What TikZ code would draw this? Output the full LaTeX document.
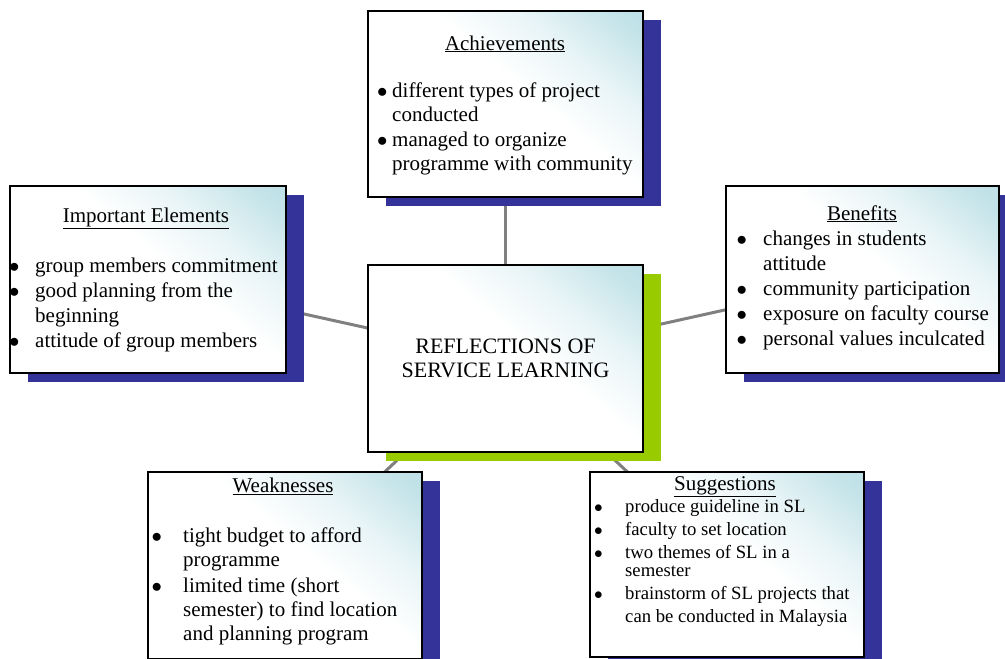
\documentclass[tikz,border=0pt]{standalone}
\usepackage{fontspec}
\setmainfont{Liberation Serif}
\usetikzlibrary{backgrounds}
\definecolor{tealtint}{RGB}{178,219,226}
\definecolor{shadowblue}{RGB}{51,51,153}
\definecolor{shadowgreen}{RGB}{153,204,0}
\definecolor{linkgray}{RGB}{128,128,128}
\pgfdeclareverticalshading{cornertint}{100bp}{color(0bp)=(white); color(55bp)=(white);
  color(68bp)=(tealtint!30!white); color(80bp)=(tealtint!75!white); color(92bp)=(tealtint); color(100bp)=(tealtint)}
\tikzset{
  infobox/.style={draw=black, line width=1.6pt, shading=cornertint, shading angle=-40,
    inner sep=0pt, outer sep=0pt},
  linkline/.style={draw=linkgray, line width=3pt},
  boxtitle/.style={anchor=base, inner sep=0pt, font=\fontsize{21}{24}\selectfont},
  boxlist/.style={anchor=base west, inner sep=0pt, font=\fontsize{21}{24}\selectfont},
}
\newcommand{\boxshadow}[2]{\fill[#2] ([xshift=18pt,yshift=-9pt]#1.south west) rectangle ([xshift=18pt,yshift=-9pt]#1.north east);}
\newcommand{\dotmark}{$\bullet$}
\begin{document}
\begin{tikzpicture}[x=1pt,y=-1pt]
\useasboundingbox (0,0) rectangle (1005,659);
% boxes
\node[infobox, shade, minimum width=275pt, minimum height=186pt] (achieve) at (505.5,104) {};
\node[infobox, shade, minimum width=275pt, minimum height=187pt, align=center,
  font=\fontsize{22}{24}\selectfont] (core) at (505.5,358.5) {REFLECTIONS OF\\SERVICE LEARNING};
\node[infobox, shade, minimum width=276pt, minimum height=187pt] (impel) at (148,279.5) {};
\node[infobox, shade, minimum width=273pt, minimum height=187pt] (benefit) at (862.5,279.5) {};
\node[infobox, shade, minimum width=274pt, minimum height=187pt] (weak) at (285,565.5) {};
\node[infobox, shade, minimum width=274pt, minimum height=185pt] (suggest) at (727,564.5) {};
% links and shadows
\begin{scope}[on background layer]
\draw[linkline] (achieve.center) -- (core.center);
\draw[linkline] (impel.center) -- (core.center);
\draw[linkline] (benefit.center) -- (core.center);
\draw[linkline] (weak.center) -- (core.center);
\draw[linkline] (suggest.center) -- (core.center);
\boxshadow{achieve}{shadowblue}
\boxshadow{core}{shadowgreen}
\boxshadow{impel}{shadowblue}
\boxshadow{benefit}{shadowblue}
\boxshadow{weak}{shadowblue}
\boxshadow{suggest}{shadowblue}
\end{scope}
% titles
\node[boxtitle] (achieve-title) at (505,50) {\underline{Achievements}};
\node[boxtitle] (impel-title) at (146,222) {\underline{Important Elements}};
\node[boxtitle] (benefit-title) at (862,220) {\underline{Benefits}};
\node[boxtitle] (weak-title) at (283,492) {\underline{Weaknesses}};
\node[boxtitle] (suggest-title) at (725,490) {\underline{Suggestions}};
% lists
\node[boxlist] (achieve-list) at (377,97) {\begin{tabular}[t]{@{}p{15pt}@{}l@{}}
\dotmark & different types of project\\
 & conducted\\[1pt]
\dotmark & managed to organize\\
 & programme with community
\end{tabular}};
\node[boxlist, font=\fontsize{21}{25}\selectfont] (impel-list) at (9,272) {\begin{tabular}[t]{@{}p{26pt}@{}l@{}}
\dotmark & group members commitment\\
\dotmark & good planning from the\\
 & beginning\\
\dotmark & attitude of group members
\end{tabular}};
\node[boxlist, font=\fontsize{21}{25}\selectfont] (benefit-list) at (736.5,245) {\begin{tabular}[t]{@{}p{26.5pt}@{}l@{}}
\dotmark & changes in students\\
 & attitude\\
\dotmark & community participation\\
\dotmark & exposure on faculty course\\
\dotmark & personal values inculcated
\end{tabular}};
\node[boxlist] (weak-list) at (151.5,542) {\begin{tabular}[t]{@{}p{31.5pt}@{}l@{}}
\dotmark & tight budget to afford\\
 & programme\\[2pt]
\dotmark & limited time (short\\
 & semester) to find location\\
 & and planning program
\end{tabular}};
\node[boxlist, font=\fontsize{18.7}{23}\selectfont] (suggest-list) at (594,512) {\begin{tabular}[t]{@{}p{31pt}@{}l@{}}
\dotmark & produce guideline in SL\\
\dotmark & faculty to set location\\
\dotmark & two themes of SL in a\\[-5pt]
 & semester\\
\dotmark & brainstorm of SL projects that\\
 & can be conducted in Malaysia
\end{tabular}};
\end{tikzpicture}
\end{document}
